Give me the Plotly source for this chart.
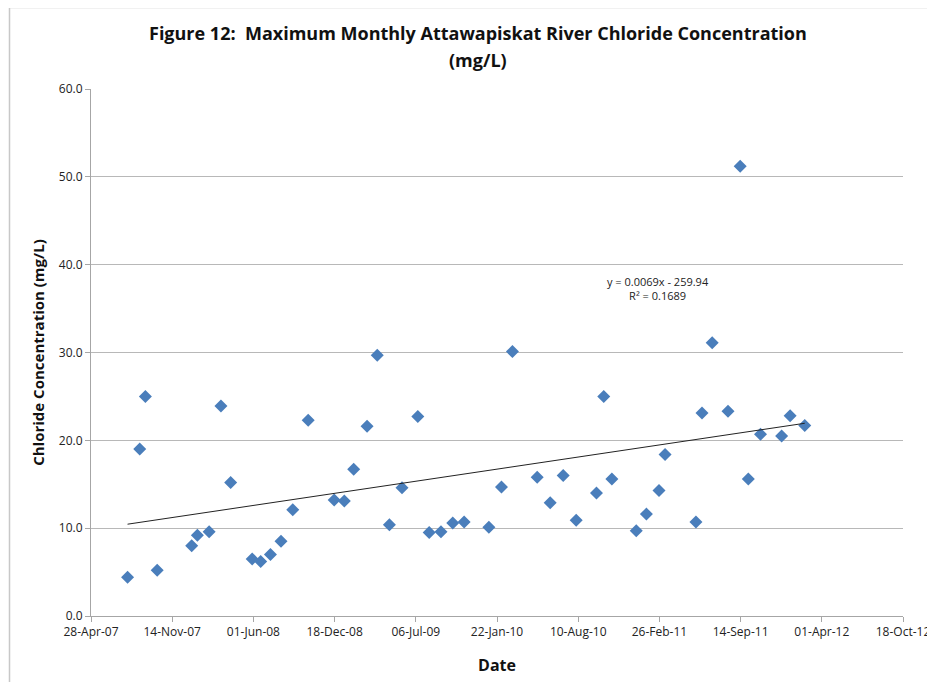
import numpy as np
import pandas as pd
import plotly.graph_objects as go

dates = [
    "2007-07-27", "2007-08-26", "2007-09-09", "2007-10-08", "2008-01-01",
    "2008-01-15", "2008-02-13", "2008-03-13", "2008-04-06", "2008-05-29",
    "2008-06-19", "2008-07-13", "2008-08-08", "2008-09-06", "2008-10-14",
    "2008-12-17", "2009-01-11", "2009-02-03", "2009-03-08", "2009-04-02",
    "2009-05-02", "2009-06-02", "2009-07-11", "2009-08-08", "2009-09-06",
    "2009-10-05", "2009-11-02", "2010-01-02", "2010-02-02", "2010-03-01",
    "2010-05-01", "2010-06-02", "2010-07-04", "2010-08-05", "2010-09-24",
    "2010-10-12", "2010-11-01", "2010-12-31", "2011-01-25", "2011-02-25",
    "2011-03-12", "2011-05-27", "2011-06-11", "2011-07-06", "2011-08-14",
    "2011-09-13", "2011-10-03", "2011-11-02", "2011-12-24", "2012-01-14",
    "2012-02-19",
]
chloride = [
    4.4, 19.0, 25.0, 5.2, 8.0,
    9.2, 9.6, 23.9, 15.2, 6.5,
    6.2, 7.0, 8.5, 12.1, 22.3,
    13.2, 13.1, 16.7, 21.6, 29.7,
    10.4, 14.6, 22.7, 9.5, 9.6,
    10.6, 10.7, 10.1, 14.7, 30.1,
    15.8, 12.9, 16.0, 10.9, 14.0,
    25.0, 15.6, 9.7, 11.6, 14.3,
    18.4, 10.7, 23.1, 31.1, 23.3,
    51.2, 15.6, 20.7, 20.5, 22.8,
    21.7,
]
title_line1 = "Figure 12:  Maximum Monthly Attawapiskat River Chloride Concentration"
title_line2 = "(mg/L)"
trend_label = "y = 0.0069x - 259.94<br>R² = 0.1689"
x_tick0 = "2007-04-28"
x_end = "2012-10-18"
y_ticks = [0, 10, 20, 30, 40, 50, 60]

dt = pd.to_datetime(dates)
excel_serial = (dt - pd.Timestamp("1899-12-30")).days.values.astype(float)
slope, intercept = np.polyfit(excel_serial, np.array(chloride), 1)
tx = np.array([excel_serial.min(), excel_serial.max()])
ty = slope * tx + intercept
tdates = pd.Timestamp("1899-12-30") + pd.to_timedelta(tx, unit="D")

fig = go.Figure()
fig.add_trace(go.Scatter(
    x=dt, y=chloride, mode="markers",
    marker=dict(symbol="diamond", size=10, color="#4a7ebb",
                line=dict(width=0)),
    showlegend=False, hoverinfo="x+y",
))
fig.add_trace(go.Scatter(
    x=tdates, y=ty, mode="lines",
    line=dict(color="#222222", width=1),
    showlegend=False, hoverinfo="skip",
))

# page body has an 8px margin; figure placed at (8, 8)
OFF = 8
W, H = 935 - OFF, 682 - OFF
ML, MT = 91 - OFF, 89 - OFF
MR = OFF + W - 903
MB = OFF + H - 616
pw, ph = W - ML - MR, H - MT - MB

def px_x(p):
    return (p - OFF - ML) / pw

def px_y(p):
    return (H - MB - (p - OFF)) / ph

font_family = "Open Sans, Lato, sans-serif"
fig.update_layout(
    width=W, height=H,
    margin=dict(l=ML, r=MR, t=MT, b=MB, autoexpand=False),
    paper_bgcolor="white", plot_bgcolor="white",
    font=dict(family=font_family, color="#222222"),
    xaxis=dict(
        type="date",
        range=[x_tick0, x_end],
        tick0=x_tick0, dtick=200 * 86400000,
        tickformat="%d-%b-%y",
        showgrid=False, zeroline=False,
        showline=True, linecolor="#a6a6a6", linewidth=1,
        ticks="outside", ticklen=5, tickcolor="#a6a6a6",
        tickfont=dict(size=12, color="#222222"),
        ticklabeloverflow="allow",
        automargin=False,
        title=dict(text="<b>Date</b>", font=dict(size=16, color="#111111"), standoff=20),
    ),
    yaxis=dict(
        range=[0, 60],
        tickvals=y_ticks, tickformat=".1f",
        showgrid=True, gridcolor="#b8b8b8", gridwidth=1,
        zeroline=False,
        showline=True, linecolor="#a6a6a6", linewidth=1,
        ticks="outside", ticklen=5, tickcolor="#a6a6a6",
        tickfont=dict(size=12, color="#222222"),
        automargin=False,
        title=dict(text="<b>Chloride Concentration (mg/L)</b>",
                   font=dict(size=15, color="#111111"), standoff=10),
    ),
)

# title lines
for txt, ypix in [(title_line1, 33), (title_line2, 60)]:
    fig.add_annotation(
        x=px_x(477.5), y=px_y(ypix), xref="paper", yref="paper",
        xanchor="center", yanchor="middle", showarrow=False,
        text=f"<b>{txt}</b>", font=dict(size=18, color="#111111"),
    )

# trend-line equation label
fig.add_annotation(
    x=pd.Timestamp("2011-02-22"), y=37.3, xref="x", yref="y",
    text=trend_label, showarrow=False,
    font=dict(size=11, color="#222222"), align="center",
)

# chart-area border (only left and top visible in the crop)
xl = px_x(9.5)
yt = px_y(7.5)
fig.add_shape(type="path", xref="paper", yref="paper",
              path=f"M {xl} {-0.2} L {xl} {yt} L {1.1} {yt}",
              line=dict(color="#c8c8c8", width=1.5))

fig.write_html("out.html")
